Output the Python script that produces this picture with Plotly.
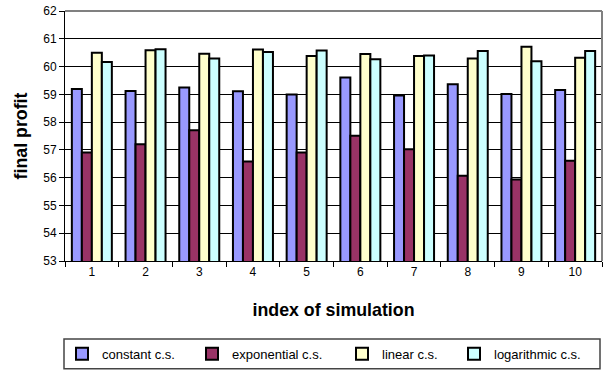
import plotly.graph_objects as go

# Final profit of each simulation run, per cooling schedule
simulations = ["1", "2", "3", "4", "5", "6", "7", "8", "9", "10"]
constant_cs = [59.19, 59.12, 59.25, 59.11, 58.99, 59.61, 58.96, 59.36, 59.01, 59.16]
exponential_cs = [56.91, 57.20, 57.71, 56.58, 56.91, 57.51, 57.02, 56.07, 55.93, 56.61]
linear_cs = [60.50, 60.59, 60.46, 60.61, 60.38, 60.45, 60.38, 60.29, 60.71, 60.32]
logarithmic_cs = [60.16, 60.62, 60.29, 60.52, 60.58, 60.26, 60.40, 60.56, 60.19, 60.56]

series_names = ["constant c.s.", "exponential c.s.", "linear c.s.", "logarithmic c.s."]
series_values = [constant_cs, exponential_cs, linear_cs, logarithmic_cs]
series_colors = ["#9999FF", "#993366", "#FFFFCC", "#CCFFFF"]

y_ticks = [53, 54, 55, 56, 57, 58, 59, 60, 61, 62]

FONT = "Liberation Sans, Arial, sans-serif"
W, H = 607, 374
M_L, M_R, M_T, M_B = 65, 5, 11, 110
plot_w = W - M_L - M_R
plot_h = H - M_T - M_B


def px_to_paper_x(px):
    return (px - M_L) / plot_w


def px_to_paper_y(py):
    return (H - M_B - py) / plot_h


fig = go.Figure()

# one legend per series so each entry can sit at its own spot in the box
legend_ids = ["legend", "legend2", "legend3", "legend4"]
legend_left_px = [62, 192, 342, 454]

for name, vals, color, lid in zip(series_names, series_values, series_colors, legend_ids):
    fig.add_trace(go.Bar(
        x=simulations,
        y=vals,
        name=name,
        legend=lid,
        showlegend=True,
        marker=dict(color=color, line=dict(color="black", width=2)),
    ))

legend_layout = {}
for lid, lpx in zip(legend_ids, legend_left_px):
    legend_layout[lid] = dict(
        x=px_to_paper_x(lpx),
        y=px_to_paper_y(358),
        xanchor="left",
        yanchor="middle",
        orientation="h",
        bgcolor="rgba(0,0,0,0)",
        borderwidth=0,
        itemwidth=30,
        font=dict(family=FONT, size=13, color="black"),
    )

fig.update_layout(
    width=W,
    height=H,
    margin=dict(l=M_L, r=M_R, t=M_T, b=M_B, pad=0),
    paper_bgcolor="white",
    plot_bgcolor="white",
    barmode="group",
    bargap=0.255,
    bargroupgap=0,
    showlegend=True,
    font=dict(family=FONT, size=12, color="black"),
    **legend_layout,
)

fig.update_xaxes(
    type="category",
    showline=True,
    linecolor="black",
    linewidth=1,
    ticks="outside",
    tickson="boundaries",
    ticklen=5,
    tickcolor="black",
    tickfont=dict(size=12),
    showgrid=False,
    title=dict(text="<b>index of simulation</b>", font=dict(size=17.8), standoff=25),
)

fig.update_yaxes(
    range=[53, 62],
    tickvals=y_ticks,
    ticktext=[str(v) for v in y_ticks],
    showline=True,
    linecolor="black",
    linewidth=1,
    ticks="outside",
    ticklen=5,
    tickcolor="black",
    tickfont=dict(size=12),
    showgrid=True,
    gridcolor="black",
    gridwidth=1,
    zeroline=False,
    title=dict(text="<b>final profit</b>", font=dict(size=17.8), standoff=11),
)

# grey frame on the top and right of the plot area
fig.add_shape(type="line", xref="paper", yref="paper", x0=0, x1=1, y0=1, y1=1,
              line=dict(color="#808080", width=2))
fig.add_shape(type="line", xref="paper", yref="paper", x0=1, x1=1, y0=0, y1=1,
              line=dict(color="#808080", width=2))

# legend box
fig.add_shape(type="rect", xref="paper", yref="paper",
              x0=px_to_paper_x(64), x1=px_to_paper_x(600),
              y0=px_to_paper_y(373), y1=px_to_paper_y(343),
              line=dict(color="#444444", width=1.5), fillcolor="rgba(0,0,0,0)")

fig.write_html("out.html")
